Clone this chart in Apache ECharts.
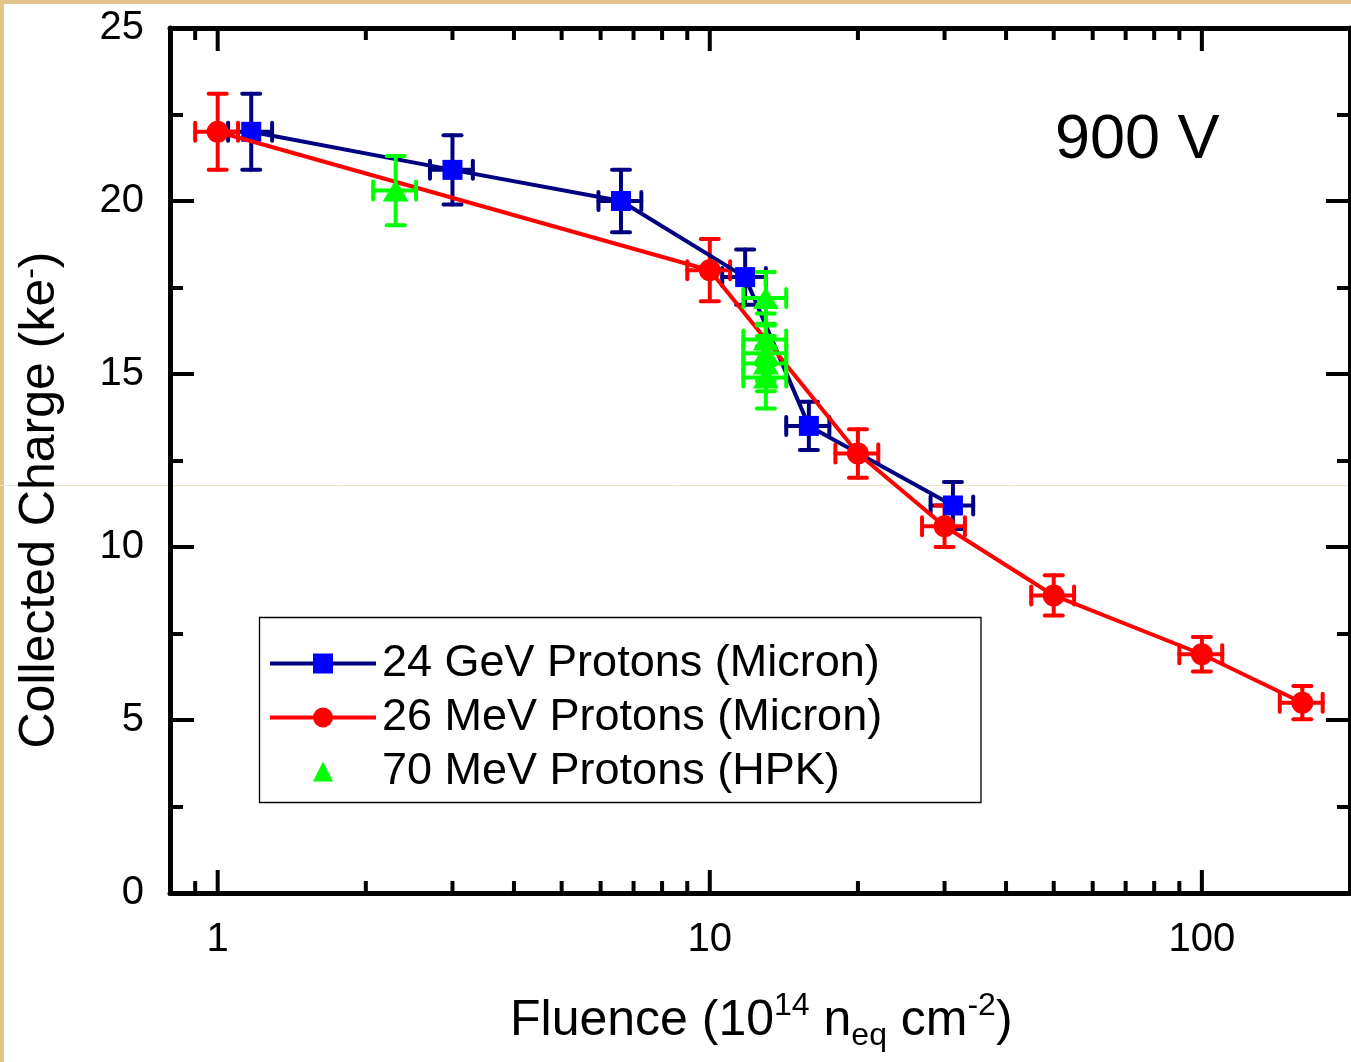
<!DOCTYPE html>
<html>
<head>
<meta charset="utf-8">
<script src="https://cdn.jsdelivr.net/npm/echarts@6/dist/echarts.min.js"></script>
<style>
  html, body { margin: 0; padding: 0; background: #ffffff; }
  #chart { width: 1351px; height: 1062px; }
</style>
</head>
<body>
<div id="chart"></div>
<script>
// 24 GeV protons (Micron sensors)
const fluence24 = [1.17, 3.0, 6.6, 11.8, 15.9, 31.2];
const charge24 = [22.0, 20.9, 20.0, 17.8, 13.5, 11.2];
const fluenceErr24 = [0.12, 0.3, 0.66, 1.2, 1.6, 3.1];
const chargeErr24 = [1.1, 1.0, 0.9, 0.8, 0.7, 0.68];

// 26 MeV protons (Micron sensors)
const fluence26 = [1, 10, 20, 30, 50, 100, 160];
const charge26 = [22.0, 18.0, 12.7, 10.6, 8.6, 6.9, 5.5];
const fluenceErr26 = [0.1, 1, 2, 3, 5, 10, 16];
const chargeErr26 = [1.1, 0.9, 0.7, 0.6, 0.58, 0.5, 0.48];

// 70 MeV protons (HPK sensors)
const fluence70 = [2.3, 13.0, 13.0, 13.0, 13.0, 13.0];
const charge70 = [20.3, 17.2, 16.0, 15.6, 15.3, 14.9];
const fluenceErr70 = [0.23, 1.3, 1.3, 1.3, 1.3, 1.3];
const chargeErr70 = [1.0, 0.75, 0.75, 0.8, 0.8, 0.9];

// axis ranges and tick values
const fluenceMin = 0.8;
const fluenceMax = 200;
const chargeMin = 0;
const chargeMax = 25;
const chargeStep = 5;
const fluenceMajorTicks = [1, 10, 100];
const fluenceMinorTicks = [0.9, 2, 3, 4, 5, 6, 7, 8, 9, 20, 30, 40, 50, 60, 70, 80, 90];

const seriesNames = ['24 GeV Protons (Micron)', '26 MeV Protons (Micron)', '70 MeV Protons (HPK)'];

const FONT = '"Liberation Sans", Arial, Helvetica, sans-serif';
const NAVY = '#000080';
const BLUE = '#0000ff';
const RED = '#ff0000';
const GREEN = '#00ff00';

function points(xs, ys) {
  return xs.map((x, i) => [x, ys[i]]);
}
function errorRows(xs, ys, dxs, dys) {
  return xs.map((x, i) => [x, ys[i], dxs[i], dys[i]]);
}

// error bars with caps in both directions
function errorBarRenderer(color) {
  return function (params, api) {
    const x = api.value(0), y = api.value(1), dx = api.value(2), dy = api.value(3);
    const c = api.coord([x, y]);
    const yTop = api.coord([x, y + dy])[1];
    const yBot = api.coord([x, y - dy])[1];
    const xL = api.coord([x - dx, y])[0];
    const xR = api.coord([x + dx, y])[0];
    const half = 9;
    const seg = (x1, y1, x2, y2) => ({
      type: 'line',
      shape: { x1, y1, x2, y2 },
      style: { stroke: color, lineWidth: 4, lineCap: 'round', fill: null }
    });
    return {
      type: 'group',
      children: [
        seg(c[0], yTop, c[0], yBot),
        seg(c[0] - half, yTop, c[0] + half, yTop),
        seg(c[0] - half, yBot, c[0] + half, yBot),
        seg(xL, c[1], xR, c[1]),
        seg(xL, c[1] - half, xL, c[1] + half),
        seg(xR, c[1] - half, xR, c[1] + half)
      ]
    };
  };
}

// log-axis ticks on the bottom and top frame edges, pointing inward
function tickRenderer(len) {
  return function (params, api) {
    const v = api.value(0);
    const b = api.coord([v, chargeMin]);
    const t = api.coord([v, chargeMax]);
    const st = () => ({ stroke: '#000', lineWidth: 4, fill: null });
    return {
      type: 'group',
      children: [
        { type: 'line', shape: { x1: b[0], y1: b[1], x2: b[0], y2: b[1] - len }, style: st() },
        { type: 'line', shape: { x1: t[0], y1: t[1], x2: t[0], y2: t[1] + len }, style: st() }
      ]
    };
  };
}

const chart = echarts.init(document.getElementById('chart'), null, { renderer: 'canvas' });

const yAxisCommon = {
  type: 'value',
  min: chargeMin,
  max: chargeMax,
  interval: chargeStep,
  splitLine: { show: false },
  axisLine: { show: true, onZero: false, lineStyle: { color: '#000', width: 5 } },
  axisTick: { show: true, inside: true, length: 24, lineStyle: { color: '#000', width: 4 } },
  minorTick: { show: true, splitNumber: 2, length: 13, lineStyle: { color: '#000', width: 4 } },
  minorSplitLine: { show: false }
};

const option = {
  animation: false,
  backgroundColor: '#ffffff',
  grid: { left: 170, top: 28, right: 1, bottom: 169, containLabel: false, outerBoundsMode: 'none' },
  xAxis: [
    {
      type: 'log',
      logBase: 10,
      min: fluenceMin,
      max: fluenceMax,
      position: 'bottom',
      splitLine: { show: false },
      axisLine: { show: true, onZero: false, lineStyle: { color: '#000', width: 5 } },
      axisTick: { show: false },
      axisLabel: {
        show: true,
        margin: 27,
        color: '#000',
        fontSize: 40,
        fontFamily: FONT,
        showMinLabel: false,
        showMaxLabel: false,
        formatter: function (v) {
          return fluenceMajorTicks.some(t => Math.abs(t - v) < 1e-6 * t) ? String(Math.round(v)) : '';
        }
      }
    },
    {
      type: 'log',
      logBase: 10,
      min: fluenceMin,
      max: fluenceMax,
      position: 'top',
      splitLine: { show: false },
      axisLine: { show: true, onZero: false, lineStyle: { color: '#000', width: 5 } },
      axisTick: { show: false },
      axisLabel: { show: false }
    }
  ],
  yAxis: [
    Object.assign({}, yAxisCommon, {
      position: 'left',
      axisLabel: { show: true, margin: 26, color: '#000', fontSize: 40, fontFamily: FONT }
    }),
    Object.assign({}, yAxisCommon, {
      position: 'right',
      axisLabel: { show: false }
    })
  ],
  legend: {
    data: [
      { name: seriesNames[0] },
      { name: seriesNames[1] },
      { name: seriesNames[2], lineStyle: { width: 0, opacity: 0 } }
    ],
    orient: 'vertical',
    left: 268,
    top: 641,
    padding: 0,
    itemWidth: 106,
    itemHeight: 25,
    itemGap: 9,
    selectedMode: false,
    lineStyle: { width: 4 },
    textStyle: { color: '#000', fontSize: 45, lineHeight: 45, fontFamily: FONT, padding: [0, 0, 0, 1] }
  },
  graphic: [
    // thin beige edges of the page
    { type: 'rect', z: 0, shape: { x: 0, y: 0, width: 1351, height: 4 }, style: { fill: '#e3c48c' } },
    { type: 'rect', z: 0, shape: { x: 0, y: 0, width: 4, height: 1062 }, style: { fill: '#e3c48c' } },
    { type: 'line', z: 0, shape: { x1: 0, y1: 485.5, x2: 1351, y2: 485.5 }, style: { stroke: '#f3e4c8', lineWidth: 1 } },
    // legend frame
    { type: 'rect', z: 1, shape: { x: 259.5, y: 617.5, width: 721.5, height: 185 },
      style: { fill: '#ffffff', stroke: '#000', lineWidth: 1.3 } },
    // voltage annotation
    { type: 'text', z: 10, x: 1055, y: 141,
      style: { text: '900 V', fill: '#000', fontSize: 63, fontFamily: FONT, align: 'left', verticalAlign: 'middle' } },
    // y axis title
    { type: 'text', z: 10, x: 40.5, y: 500, rotation: Math.PI / 2,
      style: {
        text: '{m|Collected Charge (ke}{sup|-}{m|)}',
        fill: '#000', align: 'center', verticalAlign: 'middle', fontFamily: FONT,
        rich: {
          m: { fontSize: 50, lineHeight: 50, fontFamily: FONT, fill: '#000' },
          sup: { fontSize: 32, lineHeight: 20, verticalAlign: 'top', fontFamily: FONT, fill: '#000' }
        }
      } },
    // x axis title
    { type: 'text', z: 10, x: 510, y: 990,
      style: {
        text: '{m|Fluence (10}{sup|14}{m| n}{sub|eq}{m| cm}{sup|-2}{m|)}',
        fill: '#000', align: 'left', verticalAlign: 'top', fontFamily: FONT,
        rich: {
          m: { fontSize: 50, lineHeight: 62, fontFamily: FONT, fill: '#000' },
          sup: { fontSize: 32, lineHeight: 34, verticalAlign: 'top', fontFamily: FONT, fill: '#000' },
          sub: { fontSize: 32, lineHeight: 18, verticalAlign: 'bottom', fontFamily: FONT, fill: '#000' }
        }
      } }
  ],
  series: [
    {
      name: 'fluence-major-ticks', type: 'custom', silent: true, z: 5,
      xAxisIndex: 0, yAxisIndex: 0, encode: { x: 0, y: 1 },
      data: fluenceMajorTicks.map(v => [v, chargeMin]),
      renderItem: tickRenderer(23)
    },
    {
      name: 'fluence-minor-ticks', type: 'custom', silent: true, z: 5,
      xAxisIndex: 0, yAxisIndex: 0, encode: { x: 0, y: 1 },
      data: fluenceMinorTicks.map(v => [v, chargeMin]),
      renderItem: tickRenderer(12)
    },
    {
      name: seriesNames[0], type: 'line', z: 3,
      data: points(fluence24, charge24),
      symbol: 'rect', symbolSize: 20,
      itemStyle: { color: BLUE },
      lineStyle: { color: NAVY, width: 4 }
    },
    {
      name: 'err24', type: 'custom', silent: true, z: 2,
      encode: { x: 0, y: 1 },
      data: errorRows(fluence24, charge24, fluenceErr24, chargeErr24),
      renderItem: errorBarRenderer(NAVY)
    },
    {
      name: seriesNames[1], type: 'line', z: 4,
      data: points(fluence26, charge26),
      symbol: 'circle', symbolSize: 22,
      itemStyle: { color: RED },
      lineStyle: { color: RED, width: 4 }
    },
    {
      name: 'err26', type: 'custom', silent: true, z: 3,
      encode: { x: 0, y: 1 },
      data: errorRows(fluence26, charge26, fluenceErr26, chargeErr26),
      renderItem: errorBarRenderer(RED)
    },
    {
      name: 'err70', type: 'custom', silent: true, z: 5,
      encode: { x: 0, y: 1 },
      data: errorRows(fluence70, charge70, fluenceErr70, chargeErr70),
      renderItem: errorBarRenderer(GREEN)
    },
    {
      // plotted as markers only: the connecting line is switched off
      name: seriesNames[2], type: 'line', z: 6,
      data: points(fluence70, charge70),
      symbol: 'triangle', symbolSize: [26, 22],
      itemStyle: { color: GREEN },
      lineStyle: { width: 0, opacity: 0 }
    }
  ]
};

chart.setOption(option);
</script>
</body>
</html>
